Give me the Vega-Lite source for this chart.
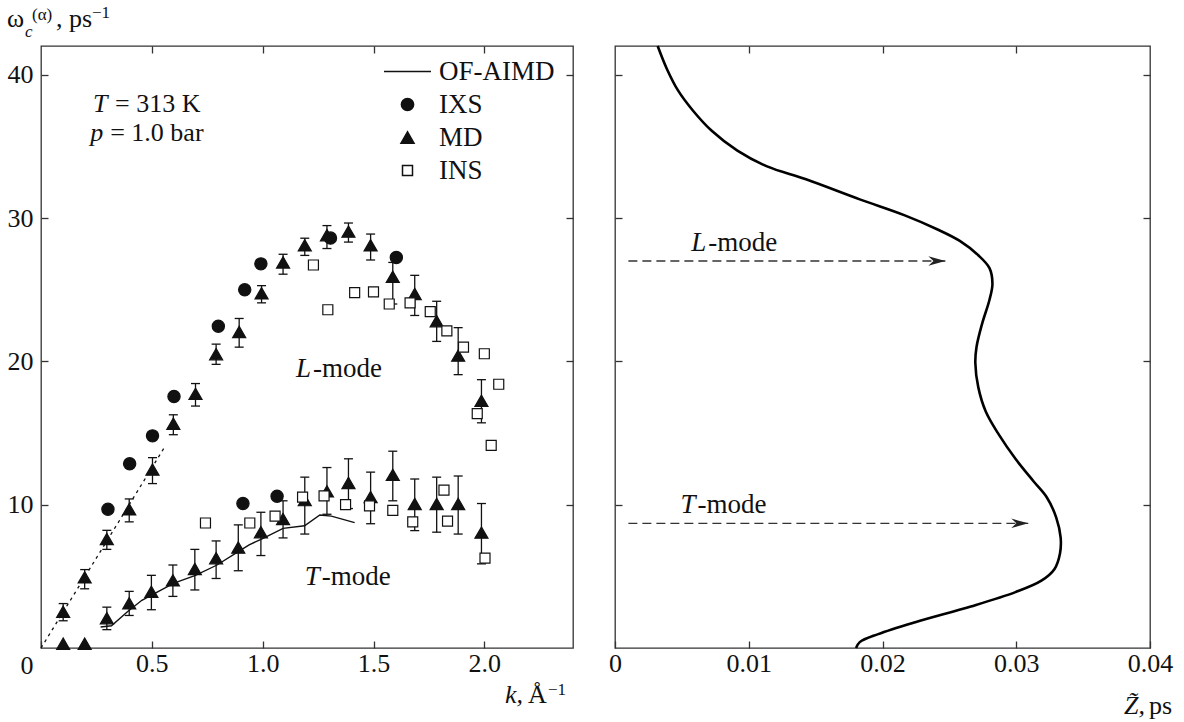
{
  "$schema": "https://vega.github.io/schema/vega-lite/v6.json",
  "background": "white",
  "padding": {"left": 6, "top": 3, "right": 5, "bottom": 2},
  "config": {
    "font": "Liberation Serif",
    "view": {"stroke": "#333", "strokeWidth": 1.3},
    "axis": {"domain": false, "grid": false, "tickSize": -7, "tickColor": "#333", "tickWidth": 1.3, "labelFont": "Liberation Serif", "labelFontSize": 26, "labelColor": "#111", "labelPadding": 15, "labelFlush": false},
    "text": {"color": "#111", "fontSize": 27, "font": "Liberation Serif"},
    "legend": {"labelFont": "Liberation Serif", "labelFontSize": 27, "labelColor": "#111"}
  },
  "datasets": {
    "pts": [
      {"series": "IXS", "k": 0.302, "w": 9.68}, {"series": "IXS", "k": 0.40, "w": 12.85}, {"series": "IXS", "k": 0.503, "w": 14.8},
      {"series": "IXS", "k": 0.60, "w": 17.55}, {"series": "IXS", "k": 0.80, "w": 22.45}, {"series": "IXS", "k": 0.919, "w": 24.99},
      {"series": "IXS", "k": 0.992, "w": 26.8}, {"series": "IXS", "k": 1.306, "w": 28.6}, {"series": "IXS", "k": 1.603, "w": 27.25},
      {"series": "IXS", "k": 0.911, "w": 10.08}, {"series": "IXS", "k": 1.065, "w": 10.59},
      {"series": "MD", "k": 0.10, "w": 2.53, "lo": 1.9, "hi": 3.1},
      {"series": "MD", "k": 0.197, "w": 4.93, "lo": 4.13, "hi": 5.47},
      {"series": "MD", "k": 0.297, "w": 7.6, "lo": 6.88, "hi": 8.21},
      {"series": "MD", "k": 0.398, "w": 9.68, "lo": 8.8, "hi": 10.4},
      {"series": "MD", "k": 0.503, "w": 12.45, "lo": 11.47, "hi": 13.28},
      {"series": "MD", "k": 0.597, "w": 15.65, "lo": 14.88, "hi": 16.27},
      {"series": "MD", "k": 0.697, "w": 17.73, "lo": 16.88, "hi": 18.45},
      {"series": "MD", "k": 0.79, "w": 20.5, "lo": 19.79, "hi": 21.2},
      {"series": "MD", "k": 0.894, "w": 22.05, "lo": 20.99, "hi": 22.99},
      {"series": "MD", "k": 0.995, "w": 24.75, "lo": 24.08, "hi": 25.28},
      {"series": "MD", "k": 1.092, "w": 26.9, "lo": 26.08, "hi": 27.47},
      {"series": "MD", "k": 1.19, "w": 28.1, "lo": 27.39, "hi": 28.59},
      {"series": "MD", "k": 1.29, "w": 28.8, "lo": 27.87, "hi": 29.47},
      {"series": "MD", "k": 1.387, "w": 29.05, "lo": 28.32, "hi": 29.65},
      {"series": "MD", "k": 1.487, "w": 28.1, "lo": 27.07, "hi": 28.88},
      {"series": "MD", "k": 1.587, "w": 25.9, "lo": 24.0, "hi": 26.9},
      {"series": "MD", "k": 1.686, "w": 24.7, "lo": 23.2, "hi": 26.0},
      {"series": "MD", "k": 1.785, "w": 22.8, "lo": 21.39, "hi": 24.19},
      {"series": "MD", "k": 1.882, "w": 20.4, "lo": 19.07, "hi": 22.35},
      {"series": "MD", "k": 1.987, "w": 17.25, "lo": 15.71, "hi": 18.72},
      {"series": "MD", "k": 0.10, "w": 0.3},
      {"series": "MD", "k": 0.197, "w": 0.3},
      {"series": "MD", "k": 0.297, "w": 2.08, "lo": 1.28, "hi": 2.85},
      {"series": "MD", "k": 0.398, "w": 3.12, "lo": 2.27, "hi": 3.95},
      {"series": "MD", "k": 0.498, "w": 3.92, "lo": 2.67, "hi": 5.07},
      {"series": "MD", "k": 0.595, "w": 4.72, "lo": 3.6, "hi": 5.79},
      {"series": "MD", "k": 0.694, "w": 5.52, "lo": 4.05, "hi": 6.88},
      {"series": "MD", "k": 0.79, "w": 6.27, "lo": 4.85, "hi": 7.47},
      {"series": "MD", "k": 0.89, "w": 7.01, "lo": 5.39, "hi": 8.59},
      {"series": "MD", "k": 0.992, "w": 8.08, "lo": 6.45, "hi": 9.47},
      {"series": "MD", "k": 1.092, "w": 9.0, "lo": 7.68, "hi": 10.27},
      {"series": "MD", "k": 1.19, "w": 10.32, "lo": 7.95, "hi": 11.92},
      {"series": "MD", "k": 1.29, "w": 10.93, "lo": 9.33, "hi": 12.59},
      {"series": "MD", "k": 1.387, "w": 11.52, "lo": 9.73, "hi": 13.2},
      {"series": "MD", "k": 1.487, "w": 10.53, "lo": 8.67, "hi": 12.27},
      {"series": "MD", "k": 1.587, "w": 12.08, "lo": 10.27, "hi": 13.73},
      {"series": "MD", "k": 1.686, "w": 10.05, "lo": 8.19, "hi": 11.79},
      {"series": "MD", "k": 1.785, "w": 10.05, "lo": 8.08, "hi": 11.92},
      {"series": "MD", "k": 1.882, "w": 10.05, "lo": 7.95, "hi": 12.0},
      {"series": "MD", "k": 1.987, "w": 8.05, "lo": 5.87, "hi": 10.08},
      {"series": "INS", "k": 1.229, "w": 26.72}, {"series": "INS", "k": 1.294, "w": 23.6}, {"series": "INS", "k": 1.415, "w": 24.8},
      {"series": "INS", "k": 1.5, "w": 24.85}, {"series": "INS", "k": 1.571, "w": 24.0}, {"series": "INS", "k": 1.665, "w": 24.08},
      {"series": "INS", "k": 1.756, "w": 23.47}, {"series": "INS", "k": 1.831, "w": 22.13}, {"series": "INS", "k": 1.906, "w": 20.99},
      {"series": "INS", "k": 2.0, "w": 20.53}, {"series": "INS", "k": 2.065, "w": 18.4}, {"series": "INS", "k": 1.968, "w": 16.35},
      {"series": "INS", "k": 2.031, "w": 14.13},
      {"series": "INS", "k": 0.742, "w": 8.72}, {"series": "INS", "k": 0.942, "w": 8.72}, {"series": "INS", "k": 1.056, "w": 9.2},
      {"series": "INS", "k": 1.18, "w": 10.53}, {"series": "INS", "k": 1.277, "w": 10.61}, {"series": "INS", "k": 1.374, "w": 10.0},
      {"series": "INS", "k": 1.482, "w": 9.92}, {"series": "INS", "k": 1.587, "w": 9.6}, {"series": "INS", "k": 1.677, "w": 8.8},
      {"series": "INS", "k": 1.818, "w": 11.01}, {"series": "INS", "k": 1.834, "w": 8.85}, {"series": "INS", "k": 2.003, "w": 6.27}
    ],
    "aimd": [
      {"k": 0.269, "w": 1.47}, {"k": 0.318, "w": 1.55}, {"k": 0.39, "w": 2.53}, {"k": 0.455, "w": 3.33},
      {"k": 0.503, "w": 3.73}, {"k": 0.6, "w": 4.53}, {"k": 0.697, "w": 5.07}, {"k": 0.794, "w": 5.79},
      {"k": 0.89, "w": 6.72}, {"k": 0.939, "w": 7.2}, {"k": 0.995, "w": 7.6}, {"k": 1.092, "w": 8.35},
      {"k": 1.189, "w": 8.53}, {"k": 1.258, "w": 9.28}, {"k": 1.31, "w": 9.2}, {"k": 1.415, "w": 8.75}
    ],
    "slope": [{"k": 0, "w": 0}, {"k": 0.555, "w": 13.95}],
    "zcurve": [
      {"z": 0.00319, "w": 42.0}, {"z": 0.00388, "w": 40.4}, {"z": 0.00471, "w": 38.9}, {"z": 0.00582, "w": 37.5},
      {"z": 0.00721, "w": 36.1}, {"z": 0.00915, "w": 34.7}, {"z": 0.01137, "w": 33.6}, {"z": 0.01428, "w": 32.7},
      {"z": 0.0183, "w": 31.3}, {"z": 0.02162, "w": 30.2}, {"z": 0.02412, "w": 29.2}, {"z": 0.02578, "w": 28.4},
      {"z": 0.02716, "w": 27.4}, {"z": 0.028, "w": 26.5}, {"z": 0.02822, "w": 25.4}, {"z": 0.028, "w": 24.3},
      {"z": 0.02744, "w": 22.6}, {"z": 0.02703, "w": 21.0}, {"z": 0.02694, "w": 19.9}, {"z": 0.02716, "w": 18.2},
      {"z": 0.02772, "w": 16.5}, {"z": 0.02869, "w": 14.9}, {"z": 0.02994, "w": 13.2}, {"z": 0.03132, "w": 11.6},
      {"z": 0.03229, "w": 10.5}, {"z": 0.03299, "w": 9.1}, {"z": 0.03332, "w": 7.7}, {"z": 0.03327, "w": 6.6},
      {"z": 0.03285, "w": 5.5}, {"z": 0.03188, "w": 4.7}, {"z": 0.02994, "w": 3.9}, {"z": 0.02661, "w": 2.9},
      {"z": 0.02245, "w": 1.8}, {"z": 0.01968, "w": 0.97}, {"z": 0.0183, "w": 0.41}, {"z": 0.01802, "w": 0.0}
    ],
    "arrows": [
      {"mode": "L", "w": 27.0, "z0": 0.001, "z1": 0.0247},
      {"mode": "T", "w": 8.7, "z0": 0.001, "z1": 0.0309}
    ]
  },
  "spacing": 32,
  "resolve": {
    "scale": {"shape": "independent", "fill": "independent", "size": "independent"},
    "legend": {"shape": "independent", "fill": "independent", "size": "independent"}
  },
  "hconcat": [
    {
      "width": 532,
      "height": 602,
      "resolve": {"axis": {"x": "independent", "y": "independent"}},
      "layer": [
        {
          "data": {"name": "aimd"},
          "mark": {"type": "line", "color": "#111", "strokeWidth": 1.4},
          "encoding": {
            "x": {"field": "k", "type": "quantitative", "scale": {"domain": [0, 2.4], "nice": false, "zero": false},
                  "axis": {"orient": "top", "labels": false, "values": [0.5, 1, 1.5, 2], "title": null}},
            "y": {"field": "w", "type": "quantitative", "scale": {"domain": [0, 42], "nice": false, "zero": false},
                  "axis": {"orient": "right", "labels": false, "values": [10, 20, 30, 40], "title": null}}
          }
        },
        {
          "data": {"name": "slope"},
          "mark": {"type": "line", "color": "#111", "strokeWidth": 1.3, "strokeDash": [3, 4]},
          "encoding": {
            "x": {"field": "k", "type": "quantitative", "axis": null},
            "y": {"field": "w", "type": "quantitative", "axis": null}
          }
        },
        {
          "data": {"name": "pts"},
          "transform": [{"filter": "datum.series === 'MD' && isValid(datum.lo)"}],
          "mark": {"type": "rule", "color": "#111", "strokeWidth": 1.3},
          "encoding": {
            "x": {"field": "k", "type": "quantitative", "axis": null},
            "y": {"field": "lo", "type": "quantitative", "axis": null},
            "y2": {"field": "hi"}
          }
        },
        {
          "data": {"name": "pts"},
          "transform": [{"filter": "datum.series === 'MD' && isValid(datum.lo)"}],
          "mark": {"type": "point", "shape": "stroke", "size": 81, "color": "#111", "strokeWidth": 1.3, "opacity": 1},
          "encoding": {
            "x": {"field": "k", "type": "quantitative", "axis": null},
            "y": {"field": "lo", "type": "quantitative", "axis": null}
          }
        },
        {
          "data": {"name": "pts"},
          "transform": [{"filter": "datum.series === 'MD' && isValid(datum.hi)"}],
          "mark": {"type": "point", "shape": "stroke", "size": 81, "color": "#111", "strokeWidth": 1.3, "opacity": 1},
          "encoding": {
            "x": {"field": "k", "type": "quantitative", "axis": null},
            "y": {"field": "hi", "type": "quantitative", "axis": null}
          }
        },
        {
          "data": {"name": "pts"},
          "mark": {"type": "point", "filled": true, "stroke": "#111", "strokeWidth": 1.2, "opacity": 1},
          "encoding": {
            "x": {"field": "k", "type": "quantitative",
                  "axis": {"orient": "bottom", "values": [0, 0.5, 1, 1.5, 2], "title": null,
                           "labelExpr": "datum.value == 0 ? '' : format(datum.value, '.1f')",
                           "labelPadding": 9}},
            "y": {"field": "w", "type": "quantitative",
                  "axis": {"orient": "left", "values": [10, 20, 30, 40], "title": null}},
            "shape": {"field": "series", "type": "nominal", "title": null,
                      "scale": {"domain": ["OF-AIMD", "IXS", "MD", "INS"], "range": ["stroke", "circle", "triangle-up", "square"]},
                      "legend": {"orient": "none", "legendX": 342, "legendY": 1, "labelOffset": 7, "rowPadding": 5, "padding": 0,
                                 "encode": {"symbols": {"stroke": {"value": "#111"}, "strokeWidth": {"value": 1.3}}}}},
            "fill": {"field": "series", "type": "nominal", "title": null,
                     "scale": {"domain": ["OF-AIMD", "IXS", "MD", "INS"], "range": ["#111", "#111", "#111", "white"]},
                     "legend": {"orient": "none", "legendX": 342, "legendY": 1, "labelOffset": 7, "rowPadding": 5, "padding": 0,
                                "encode": {"symbols": {"stroke": {"value": "#111"}, "strokeWidth": {"value": 1.3}}}}},
            "size": {"field": "series", "type": "nominal", "title": null,
                     "scale": {"type": "ordinal", "domain": ["OF-AIMD", "IXS", "MD", "INS"], "range": [2209, 150, 170, 100]},
                     "legend": {"orient": "none", "legendX": 342, "legendY": 1, "labelOffset": 7, "rowPadding": 5, "padding": 0,
                                "encode": {"symbols": {"stroke": {"value": "#111"}, "strokeWidth": {"value": 1.3}}}}}
          }
        },
        {
          "data": {"values": [{}]},
          "mark": {"type": "text", "text": "0", "fontSize": 26, "align": "center", "baseline": "alphabetic", "dx": -14, "dy": 26},
          "encoding": {"x": {"datum": 0, "type": "quantitative", "axis": null}, "y": {"datum": 0, "type": "quantitative", "axis": null}}
        },
        {
          "data": {"values": [{}]},
          "mark": {"type": "text", "text": "ω", "fontSize": 26, "align": "left", "baseline": "alphabetic", "dx": -34, "dy": -19},
          "encoding": {"x": {"datum": 0, "type": "quantitative", "axis": null}, "y": {"datum": 42, "type": "quantitative", "axis": null}}
        },
        {
          "data": {"values": [{}]},
          "mark": {"type": "text", "text": "c", "fontStyle": "italic", "fontSize": 17, "align": "left", "baseline": "alphabetic", "dx": -16, "dy": -9},
          "encoding": {"x": {"datum": 0, "type": "quantitative", "axis": null}, "y": {"datum": 42, "type": "quantitative", "axis": null}}
        },
        {
          "data": {"values": [{}]},
          "mark": {"type": "text", "text": "(α)", "fontSize": 17, "align": "left", "baseline": "alphabetic", "dx": -9, "dy": -26},
          "encoding": {"x": {"datum": 0, "type": "quantitative", "axis": null}, "y": {"datum": 42, "type": "quantitative", "axis": null}}
        },
        {
          "data": {"values": [{}]},
          "mark": {"type": "text", "text": ", ps", "fontSize": 26, "align": "left", "baseline": "alphabetic", "dx": 15, "dy": -19},
          "encoding": {"x": {"datum": 0, "type": "quantitative", "axis": null}, "y": {"datum": 42, "type": "quantitative", "axis": null}}
        },
        {
          "data": {"values": [{}]},
          "mark": {"type": "text", "text": "−1", "fontSize": 17, "align": "left", "baseline": "alphabetic", "dx": 51, "dy": -28},
          "encoding": {"x": {"datum": 0, "type": "quantitative", "axis": null}, "y": {"datum": 42, "type": "quantitative", "axis": null}}
        },
        {
          "data": {"values": [{}]},
          "mark": {"type": "text", "text": "k,", "fontStyle": "italic", "fontSize": 26, "align": "left", "baseline": "alphabetic", "dx": -68, "dy": 55},
          "encoding": {"x": {"datum": 2.4, "type": "quantitative", "axis": null}, "y": {"datum": 0, "type": "quantitative", "axis": null}}
        },
        {
          "data": {"values": [{}]},
          "mark": {"type": "text", "text": "Å", "fontSize": 26, "align": "left", "baseline": "alphabetic", "dx": -45, "dy": 55},
          "encoding": {"x": {"datum": 2.4, "type": "quantitative", "axis": null}, "y": {"datum": 0, "type": "quantitative", "axis": null}}
        },
        {
          "data": {"values": [{}]},
          "mark": {"type": "text", "text": "−1", "fontSize": 17, "align": "left", "baseline": "alphabetic", "dx": -25, "dy": 47},
          "encoding": {"x": {"datum": 2.4, "type": "quantitative", "axis": null}, "y": {"datum": 0, "type": "quantitative", "axis": null}}
        },
        {
          "data": {"values": [{}]},
          "mark": {"type": "text", "text": "T", "fontStyle": "italic", "fontSize": 26, "align": "left", "baseline": "alphabetic"},
          "encoding": {"x": {"datum": 0.235, "type": "quantitative", "axis": null}, "y": {"datum": 37.4, "type": "quantitative", "axis": null}}
        },
        {
          "data": {"values": [{}]},
          "mark": {"type": "text", "text": "= 313 K", "fontSize": 26, "align": "left", "baseline": "alphabetic", "dx": 22},
          "encoding": {"x": {"datum": 0.235, "type": "quantitative", "axis": null}, "y": {"datum": 37.4, "type": "quantitative", "axis": null}}
        },
        {
          "data": {"values": [{}]},
          "mark": {"type": "text", "text": "p", "fontStyle": "italic", "fontSize": 26, "align": "left", "baseline": "alphabetic"},
          "encoding": {"x": {"datum": 0.222, "type": "quantitative", "axis": null}, "y": {"datum": 35.4, "type": "quantitative", "axis": null}}
        },
        {
          "data": {"values": [{}]},
          "mark": {"type": "text", "text": "= 1.0 bar", "fontSize": 26, "align": "left", "baseline": "alphabetic", "dx": 20},
          "encoding": {"x": {"datum": 0.222, "type": "quantitative", "axis": null}, "y": {"datum": 35.4, "type": "quantitative", "axis": null}}
        },
        {
          "data": {"values": [{}]},
          "mark": {"type": "text", "text": "L", "fontStyle": "italic", "align": "left", "baseline": "alphabetic"},
          "encoding": {"x": {"datum": 1.15, "type": "quantitative", "axis": null}, "y": {"datum": 18.9, "type": "quantitative", "axis": null}}
        },
        {
          "data": {"values": [{}]},
          "mark": {"type": "text", "text": "-mode", "align": "left", "baseline": "alphabetic", "dx": 17},
          "encoding": {"x": {"datum": 1.15, "type": "quantitative", "axis": null}, "y": {"datum": 18.9, "type": "quantitative", "axis": null}}
        },
        {
          "data": {"values": [{}]},
          "mark": {"type": "text", "text": "T", "fontStyle": "italic", "align": "left", "baseline": "alphabetic"},
          "encoding": {"x": {"datum": 1.19, "type": "quantitative", "axis": null}, "y": {"datum": 4.4, "type": "quantitative", "axis": null}}
        },
        {
          "data": {"values": [{}]},
          "mark": {"type": "text", "text": "-mode", "align": "left", "baseline": "alphabetic", "dx": 17},
          "encoding": {"x": {"datum": 1.19, "type": "quantitative", "axis": null}, "y": {"datum": 4.4, "type": "quantitative", "axis": null}}
        }
      ]
    },
    {
      "width": 535,
      "height": 602,
      "resolve": {"axis": {"x": "independent", "y": "independent"}},
      "layer": [
        {
          "data": {"name": "zcurve"},
          "mark": {"type": "line", "color": "#000", "strokeWidth": 2.6, "interpolate": "catmull-rom"},
          "encoding": {
            "x": {"field": "z", "type": "quantitative", "scale": {"domain": [0, 0.04], "nice": false, "zero": false},
                  "axis": {"orient": "bottom", "values": [0, 0.01, 0.02, 0.03, 0.04], "title": null, "labelPadding": 9,
                           "labelExpr": "datum.value == 0 ? '0' : format(datum.value, '.2f')"}},
            "y": {"field": "w", "type": "quantitative", "scale": {"domain": [0, 42], "nice": false, "zero": false},
                  "axis": {"orient": "left", "labels": false, "values": [10, 20, 30, 40], "title": null}},
            "order": {"field": "w", "type": "quantitative"}
          }
        },
        {
          "data": {"name": "arrows"},
          "mark": {"type": "rule", "color": "#333", "strokeWidth": 1.3, "strokeDash": [9, 5]},
          "encoding": {
            "x": {"field": "z0", "type": "quantitative",
                  "axis": {"orient": "top", "labels": false, "values": [0.01, 0.02, 0.03], "title": null}},
            "x2": {"field": "z1"},
            "y": {"field": "w", "type": "quantitative",
                  "axis": {"orient": "right", "labels": false, "values": [10, 20, 30, 40], "title": null}}
          }
        },
        {
          "data": {"name": "arrows"},
          "mark": {"type": "point", "shape": "M0,0L-2,-0.55L-1.4,0L-2,0.55Z", "size": 289, "filled": true, "color": "#222", "opacity": 1},
          "encoding": {
            "x": {"field": "z1", "type": "quantitative", "axis": null},
            "y": {"field": "w", "type": "quantitative", "axis": null}
          }
        },
        {
          "data": {"values": [{}]},
          "mark": {"type": "text", "text": "L", "fontStyle": "italic", "align": "left", "baseline": "alphabetic"},
          "encoding": {"x": {"datum": 0.0057, "type": "quantitative", "axis": null}, "y": {"datum": 27.7, "type": "quantitative", "axis": null}}
        },
        {
          "data": {"values": [{}]},
          "mark": {"type": "text", "text": "-mode", "align": "left", "baseline": "alphabetic", "dx": 17},
          "encoding": {"x": {"datum": 0.0057, "type": "quantitative", "axis": null}, "y": {"datum": 27.7, "type": "quantitative", "axis": null}}
        },
        {
          "data": {"values": [{}]},
          "mark": {"type": "text", "text": "T", "fontStyle": "italic", "align": "left", "baseline": "alphabetic"},
          "encoding": {"x": {"datum": 0.0049, "type": "quantitative", "axis": null}, "y": {"datum": 9.43, "type": "quantitative", "axis": null}}
        },
        {
          "data": {"values": [{}]},
          "mark": {"type": "text", "text": "-mode", "align": "left", "baseline": "alphabetic", "dx": 17},
          "encoding": {"x": {"datum": 0.0049, "type": "quantitative", "axis": null}, "y": {"datum": 9.43, "type": "quantitative", "axis": null}}
        },
        {
          "data": {"values": [{}]},
          "mark": {"type": "text", "text": "Z̃,", "fontStyle": "italic", "fontSize": 26, "align": "left", "baseline": "alphabetic", "dx": -26, "dy": 66},
          "encoding": {"x": {"datum": 0.04, "type": "quantitative", "axis": null}, "y": {"datum": 0, "type": "quantitative", "axis": null}}
        },
        {
          "data": {"values": [{}]},
          "mark": {"type": "text", "text": "ps", "fontSize": 26, "align": "left", "baseline": "alphabetic", "dx": -1, "dy": 66},
          "encoding": {"x": {"datum": 0.04, "type": "quantitative", "axis": null}, "y": {"datum": 0, "type": "quantitative", "axis": null}}
        }
      ]
    }
  ]
}
